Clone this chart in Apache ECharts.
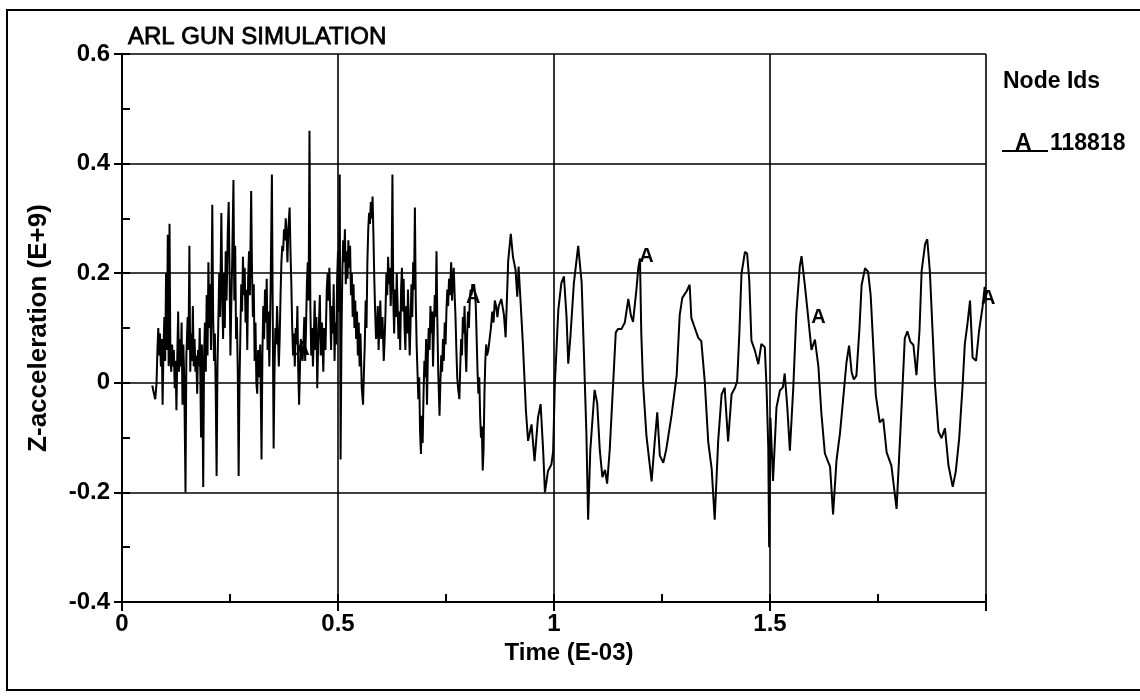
<!DOCTYPE html>
<html>
<head>
<meta charset="utf-8">
<script src="https://cdn.jsdelivr.net/npm/echarts@6/dist/echarts.min.js"></script>
<style>
html,body{margin:0;padding:0;background:#fff;}
#chart{width:1140px;height:700px;}
</style>
</head>
<body>
<div id="chart"></div>
<script>
// ---- data (time in E-03, Z-acceleration in E+9) ----
const chartTitle = 'ARL GUN SIMULATION';
const xAxisName = 'Time (E-03)';
const yAxisName = 'Z-acceleration (E+9)';
const legendTitle = 'Node Ids';
const nodeLetter = 'A';
const nodeId = '118818';
const xTicks = [0, 0.5, 1, 1.5, 2];
const yTicks = [-0.4, -0.2, 0, 0.2, 0.4, 0.6];

// early, high-frequency phase
const noisyPhase = [
[0.070,-0.005],[0.074,-0.02],[0.077,-0.03],[0.080,0.00],[0.082,0.06],[0.084,0.10],[0.086,0.05],[0.088,0.09],[0.090,0.03],[0.092,0.08],
[0.094,-0.04],[0.096,0.06],[0.098,0.12],[0.100,0.04],[0.102,0.20],[0.104,0.06],[0.106,0.27],[0.108,0.03],[0.110,0.29],[0.112,0.05],
[0.114,0.02],[0.116,0.07],[0.118,0.03],[0.120,0.06],[0.122,-0.01],[0.124,0.04],[0.126,-0.05],[0.128,0.05],[0.130,0.13],[0.132,0.02],
[0.134,0.08],[0.136,0.03],[0.138,0.11],[0.140,-0.04],[0.142,0.07],[0.144,0.01],[0.147,-0.20],[0.149,0.05],[0.152,0.12],[0.154,0.06],
[0.156,0.25],[0.158,0.02],[0.160,0.09],[0.162,0.04],[0.164,0.14],[0.166,0.03],[0.168,0.08],[0.170,0.02],[0.172,0.05],[0.174,-0.02],
[0.176,0.06],[0.178,0.03],[0.180,0.10],[0.183,-0.10],[0.185,0.07],[0.188,-0.19],[0.190,0.05],[0.192,0.11],[0.194,0.02],[0.196,0.16],
[0.198,0.05],[0.200,0.22],[0.202,0.10],[0.204,0.18],[0.206,0.06],[0.209,0.325],[0.211,0.12],[0.213,0.04],[0.215,0.09],[0.217,-0.02],
[0.219,-0.17],[0.221,0.03],[0.223,0.11],[0.225,0.20],[0.227,0.12],[0.230,0.31],[0.232,0.16],[0.234,0.08],[0.236,0.20],[0.238,0.10],
[0.240,0.24],[0.242,0.15],[0.245,0.28],[0.247,0.33],[0.249,0.20],[0.251,0.05],[0.253,0.14],[0.255,0.22],[0.258,0.37],[0.260,0.15],
[0.262,0.25],[0.264,0.08],[0.266,0.12],[0.268,0.02],[0.270,-0.17],[0.272,0.00],[0.274,0.09],[0.276,0.18],[0.278,0.13],[0.280,0.23],
[0.282,0.16],[0.284,0.21],[0.286,0.11],[0.288,0.17],[0.290,0.06],[0.292,0.19],[0.294,0.24],[0.296,0.16],[0.299,0.35],[0.301,0.20],
[0.303,0.12],[0.305,0.18],[0.307,0.04],[0.309,0.11],[0.311,0.00],[0.313,-0.02],[0.315,0.06],[0.317,0.01],[0.320,0.07],[0.323,-0.14],
[0.325,0.05],[0.327,0.14],[0.329,0.08],[0.331,0.17],[0.333,0.11],[0.335,0.19],[0.337,0.06],[0.339,0.13],[0.341,0.03],[0.344,0.17],
[0.347,0.38],[0.349,0.12],[0.351,-0.12],[0.353,0.02],[0.355,0.10],[0.357,0.07],[0.359,0.14],[0.361,0.09],[0.363,0.03],[0.365,0.08],
[0.367,0.16],[0.369,0.22],[0.371,0.25],[0.373,0.24],[0.375,0.28],[0.377,0.26],[0.379,0.30],[0.381,0.27],[0.383,0.22],[0.385,0.28],
[0.388,0.32],[0.390,0.24],[0.392,0.18],[0.394,0.10],[0.396,0.05],[0.398,0.09],[0.400,0.03],[0.402,0.10],[0.404,0.07],[0.406,0.14],
[0.408,0.02],[0.410,-0.04],[0.412,0.03],[0.414,0.08],[0.416,0.05],[0.418,0.04],[0.420,0.07],[0.422,0.12],[0.424,0.04],[0.426,0.10],
[0.428,0.18],[0.430,0.22],[0.432,0.15],[0.434,0.46],[0.436,0.14],[0.438,0.05],[0.440,0.10],[0.442,0.03],[0.444,0.08],[0.446,0.15],
[0.448,0.06],[0.450,0.12],[0.452,-0.01],[0.454,0.07],[0.456,0.11],[0.458,0.16],[0.460,0.05],[0.463,0.11],[0.466,0.02],[0.468,0.10],
[0.471,0.06],[0.474,0.17],[0.476,0.20],[0.478,0.15],[0.480,0.21],[0.482,0.13],[0.484,0.06],[0.486,0.14],[0.488,0.09],[0.490,0.18],
[0.492,0.04],[0.494,0.11],[0.496,0.07],[0.498,0.19],[0.500,0.24],[0.502,0.13],[0.504,0.38],[0.506,-0.14],[0.508,0.08],[0.510,0.20],
[0.512,0.26],[0.514,0.22],[0.516,0.28],[0.518,0.18],[0.520,0.24],[0.522,0.19],[0.524,0.26],[0.526,0.21],[0.528,0.25],[0.530,0.16],
[0.532,0.20],[0.534,0.12],[0.536,0.18],[0.538,0.10],[0.540,0.15],[0.542,0.08],[0.544,0.13],[0.546,0.05],[0.548,0.11],[0.550,0.03],
[0.552,0.09],[0.555,-0.01],[0.558,-0.04],[0.560,0.02],[0.562,0.07],[0.564,0.15],[0.566,0.10],[0.568,0.22],[0.570,0.28],[0.572,0.31],
[0.574,0.29],[0.576,0.33],[0.578,0.30],[0.580,0.34],[0.582,0.27],[0.584,0.19],[0.586,0.13],[0.588,0.08],[0.590,0.09],[0.592,0.14],
[0.594,0.06],[0.596,0.11],[0.598,0.15],[0.600,0.08],[0.603,0.12],[0.606,0.04],[0.608,0.08],[0.610,0.13],[0.612,0.20],[0.614,0.16],
[0.616,0.23],[0.618,0.18],[0.620,0.21],[0.622,0.14],[0.624,0.19],[0.626,0.38],[0.628,0.15],[0.630,0.09],[0.632,0.17],[0.634,0.12],
[0.636,0.20],[0.638,0.14],[0.640,0.08],[0.642,0.13],[0.644,0.06],[0.646,0.17],[0.648,0.21],[0.650,0.13],[0.652,0.19],[0.654,0.10],
[0.656,0.06],[0.658,0.14],[0.660,0.09],[0.662,0.17],[0.664,0.11],[0.666,0.05],[0.668,0.11],[0.670,0.18],[0.672,0.12],[0.674,0.22],
[0.676,0.17],[0.678,0.32],[0.680,0.15],[0.682,0.07],[0.684,0.02],[0.686,-0.03],[0.688,0.01],[0.690,-0.09],[0.692,-0.13],[0.694,-0.06],
[0.696,-0.11],[0.698,-0.02],[0.700,0.04],[0.702,0.01],[0.704,0.08],[0.706,-0.04],[0.708,0.05],[0.710,0.10],[0.712,0.06],[0.714,0.14],
[0.716,0.09],[0.718,0.13],[0.720,0.03],[0.722,0.10],[0.724,0.16],[0.726,0.12],[0.728,0.24],[0.730,0.11],[0.732,0.02],[0.735,-0.06],
[0.737,0.00],[0.739,0.05],[0.741,0.02],[0.743,0.08],[0.745,0.04],[0.747,0.11],[0.749,0.07],[0.751,0.13],[0.753,0.17],[0.755,0.14],
[0.757,0.19],[0.759,0.16],[0.762,0.22],[0.764,0.15],[0.766,0.19],[0.768,0.21],[0.770,0.16],[0.772,0.12],[0.774,0.06],[0.776,0.01],
[0.778,-0.01],[0.781,-0.03],[0.783,0.03],[0.785,0.08],[0.787,0.05],[0.789,0.12],[0.791,0.09],[0.793,0.14],[0.795,0.06],[0.797,0.02],
[0.799,0.09],[0.801,0.13],[0.803,0.10],[0.805,0.15],[0.807,0.17],[0.809,0.16],[0.811,0.18],[0.813,0.17],[0.815,0.18],[0.817,0.165],
[0.819,0.14],[0.821,0.08],[0.823,0.02],[0.825,-0.02],[0.827,0.01],[0.829,-0.06],[0.831,-0.10],[0.833,-0.08],[0.835,-0.16],[0.837,-0.12],
[0.839,-0.02],[0.841,0.04],[0.843,0.07],[0.845,0.05],[0.848,0.06],[0.851,0.08],[0.854,0.10],[0.857,0.13],[0.860,0.11],[0.863,0.15],
[0.866,0.14],[0.869,0.12],[0.872,0.14]
];

// later, ringing phase
const ringTime = [
0.874,0.878,0.884,0.888,0.894,0.900,0.905,0.911,0.915,0.918,
0.922,0.928,0.935,0.940,0.948,0.955,0.963,0.969,0.975,0.979,
0.986,0.994,0.998,1.002,1.010,1.017,1.023,1.029,1.033,1.038,
1.046,1.056,1.064,1.069,1.075,1.079,1.084,1.094,1.100,1.106,
1.112,1.118,1.123,1.129,1.137,1.143,1.148,1.156,1.164,1.172,
1.178,1.183,1.191,1.195,1.199,1.202,1.206,1.214,1.226,1.233,
1.239,1.245,1.253,1.260,1.272,1.284,1.291,1.297,1.307,1.314,
1.318,1.326,1.334,1.341,1.349,1.357,1.365,1.372,1.380,1.388,
1.395,1.403,1.411,1.419,1.424,1.429,1.434,1.442,1.447,1.452,
1.457,1.465,1.473,1.480,1.488,1.492,1.496,1.498,1.501,1.507,
1.515,1.523,1.530,1.534,1.540,1.546,1.554,1.561,1.569,1.573,
1.581,1.589,1.596,1.604,1.612,1.619,1.627,1.639,1.646,1.654,
1.662,1.670,1.677,1.683,1.689,1.694,1.700,1.707,1.712,1.720,
1.727,1.733,1.739,1.745,1.754,1.762,1.770,1.781,1.793,1.801,
1.807,1.812,1.818,1.825,1.832,1.839,1.846,1.851,1.859,1.864,
1.870,1.876,1.882,1.890,1.897,1.905,1.913,1.923,1.930,1.938,
1.946,1.951,1.957,1.963,1.969,1.977,1.984,1.992,1.997,2.000
];
const ringAcc = [
0.144,0.153,0.125,0.083,0.223,0.272,0.230,0.206,0.157,0.212,
0.157,0.071,-0.051,-0.106,-0.076,-0.143,-0.063,-0.039,-0.125,-0.200,
-0.161,-0.149,-0.125,-0.002,0.133,0.182,0.194,0.121,0.035,0.084,
0.182,0.250,0.183,0.060,-0.093,-0.250,-0.123,-0.013,-0.037,-0.123,
-0.172,-0.159,-0.184,-0.122,0.000,0.092,0.098,0.098,0.110,0.153,
0.123,0.111,0.172,0.209,0.227,0.092,0.001,-0.097,-0.180,-0.109,
-0.054,-0.133,-0.146,-0.121,-0.060,0.014,0.124,0.155,0.167,0.179,
0.118,0.100,0.082,0.076,0.002,-0.108,-0.157,-0.250,-0.107,-0.021,
-0.009,-0.107,-0.021,-0.009,0.003,0.089,0.199,0.239,0.236,0.187,
0.077,0.059,0.034,0.071,0.065,-0.008,-0.118,-0.300,-0.064,-0.179,
-0.045,-0.014,-0.008,0.017,-0.044,-0.124,-0.007,0.127,0.213,0.231,
0.176,0.115,0.060,0.079,0.030,-0.056,-0.129,-0.153,-0.240,-0.141,
-0.092,-0.024,0.037,0.068,0.019,0.006,0.013,0.098,0.178,0.209,
0.203,0.160,0.068,-0.023,-0.072,-0.066,-0.127,-0.151,-0.230,-0.102,
-0.004,0.081,0.094,0.075,0.069,0.014,0.094,0.204,0.253,0.262,
0.204,0.100,-0.004,-0.089,-0.101,-0.083,-0.150,-0.190,-0.162,-0.101,
-0.003,0.071,0.107,0.150,0.046,0.040,0.095,0.138,0.175,0.151
];

// "A" node-id markers drawn along the curve
const markTime = [0.418, 0.813, 1.214, 1.612, 2.005];
const markAcc  = [0.060, 0.155, 0.230, 0.119, 0.154];

// ---- build ----
const FONT = '"Liberation Sans", Arial, Helvetica, sans-serif';
const curve = noisyPhase.concat(ringTime.map((t, i) => [t, ringAcc[i]]));
const marks = markTime.map((t, i) => [t, markAcc[i]]);

const chart = echarts.init(document.getElementById('chart'), null, {renderer: 'canvas'});
const black = '#000';
const fmtNum = v => String(Math.round(v * 1000) / 1000);

chart.setOption({
  animation: false,
  backgroundColor: '#fff',
  title: {
    text: chartTitle,
    left: 123, top: 20,
    textStyle: {fontFamily: FONT, fontSize: 24, fontWeight: 'normal', color: black,
      textBorderColor: black, textBorderWidth: 0.8}
  },
  grid: {left: 122, right: 154, top: 54, bottom: 98, containLabel: false},
  xAxis: [
    {
      type: 'value', min: xTicks[0], max: xTicks[xTicks.length - 1], interval: 0.5,
      position: 'bottom',
      name: xAxisName, nameLocation: 'middle', nameGap: 34,
      nameTextStyle: {fontFamily: FONT, fontSize: 24, fontWeight: 'bold', color: black, padding: [0, 0, 0, 30]},
      axisLine: {show: true, onZero: false, lineStyle: {color: black, width: 2}},
      axisTick: {show: true, inside: false, length: 9, lineStyle: {color: black, width: 2}},
      axisLabel: {
        show: true, margin: 10, color: black, fontFamily: FONT, fontSize: 24, fontWeight: 'bold',
        formatter: v => (Math.abs(v - xTicks[xTicks.length - 1]) < 1e-9 ? '' : fmtNum(v))
      },
      splitLine: {show: true, lineStyle: {color: black, width: 1.6}}
    },
    {
      type: 'value', min: 0, max: 2, interval: 0.25, position: 'bottom',
      axisLine: {show: false, onZero: false},
      axisTick: {show: true, inside: true, length: 8, lineStyle: {color: black, width: 2}},
      axisLabel: {show: false},
      splitLine: {show: false}
    }
  ],
  yAxis: [
    {
      type: 'value', min: yTicks[0], max: yTicks[yTicks.length - 1], interval: 0.2,
      position: 'left',
      name: yAxisName, nameLocation: 'middle', nameGap: 70,
      nameTextStyle: {fontFamily: FONT, fontSize: 26, fontWeight: 'bold', color: black},
      axisLine: {show: true, onZero: false, lineStyle: {color: black, width: 2}},
      axisTick: {show: true, inside: false, length: 8, lineStyle: {color: black, width: 2}},
      axisLabel: {show: true, margin: 12, color: black, fontFamily: FONT, fontSize: 24, fontWeight: 'bold', formatter: fmtNum},
      splitLine: {show: true, lineStyle: {color: black, width: 1.6}}
    },
    {
      type: 'value', min: -0.4, max: 0.6, interval: 0.1, position: 'left',
      axisLine: {show: false, onZero: false},
      axisTick: {show: true, inside: true, length: 8, lineStyle: {color: black, width: 2}},
      axisLabel: {show: false},
      splitLine: {show: false}
    }
  ],
  series: [
    {
      type: 'line', xAxisIndex: 0, yAxisIndex: 0,
      data: curve, showSymbol: false, symbol: 'none',
      lineStyle: {color: black, width: 2},
      z: 3
    },
    {
      type: 'scatter', xAxisIndex: 0, yAxisIndex: 0, clip: false,
      data: marks, symbol: 'circle', symbolSize: 0,
      itemStyle: {color: black},
      label: {show: true, position: 'inside', formatter: nodeLetter, opacity: 1,
        textBorderWidth: 0, fontFamily: FONT, fontSize: 20, fontWeight: 'bold', color: black},
      emphasis: {disabled: true},
      z: 4
    }
  ],
  graphic: [
    {type: 'rect', shape: {x: 7, y: 10, width: 1140, height: 680},
     style: {fill: 'none', stroke: black, lineWidth: 2}, silent: true},
    {type: 'text', left: 1003, top: 70,
     style: {text: legendTitle, font: 'bold 23px ' + FONT, fill: black}},
    {type: 'line', shape: {x1: 1002, y1: 151, x2: 1048, y2: 151},
     style: {stroke: black, lineWidth: 2}},
    {type: 'text', left: 1015, top: 132,
     style: {text: nodeLetter, font: 'bold 23px ' + FONT, fill: black}},
    {type: 'text', left: 1050, top: 132,
     style: {text: nodeId, font: 'bold 23px ' + FONT, fill: black}}
  ]
});
</script>
</body>
</html>
